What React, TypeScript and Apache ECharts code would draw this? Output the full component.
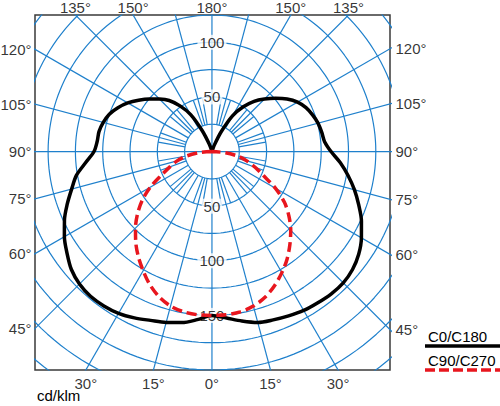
import React, { useEffect, useRef } from "react";
import * as echarts from "echarts";

// ---- data (cd/klm vs gamma angle, 0° = straight down) ----
const blackAngles = [0, 5, 10, 15, 20, 25, 30, 35, 40, 45, 50, 55, 60, 65, 70, 75, 80, 85, 90, 95, 100, 105, 110, 115, 120, 125, 130, 135, 140, 145, 150, 155, 160, 165];
const c0Values = [150, 153, 157.5, 162, 164, 166, 168, 169, 170, 170, 168, 164, 158, 151, 143, 135, 126.5, 118, 109, 103.5, 102, 100.5, 98, 95, 90.5, 84, 76, 68, 60, 50, 38, 20, 6, 0];
const c180Values = [150, 154.5, 159, 162, 164.5, 168, 171, 172.5, 173, 171.5, 168, 162, 156, 149, 141, 133, 126, 116, 108, 105.5, 105, 103, 100, 95, 89, 82, 75, 68, 61, 51, 39, 21, 7, 0];

const redAngles = [0, 5, 10, 15, 20, 25, 30, 35, 40, 45, 50, 55, 60, 65, 70, 75, 80, 85, 90];
const c90Values = [150, 150, 149, 146.5, 142, 135.5, 128, 120, 111, 102, 92, 81, 67, 52, 42, 33, 24, 12, 0];
const c270Values = [150, 150, 149, 146.5, 141.5, 134.5, 126, 117.5, 108.5, 99, 89, 78, 65, 51, 41, 33, 23.5, 11.5, 0];

const ringValues = [25, 50, 75, 100, 125, 150, 175, 200, 225, 250, 275, 300];
const radialLabelsUp = [50, 100];
const radialLabelsDown = [50, 100, 150];
const sideAngleLabels = [120, 105, 90, 75, 60, 45];
const topAngleLabels = [135, 150, 180];
const bottomAngleLabels = [30, 15, 0];

const seriesNames = ["C0/C180", "C90/C270"];
const unitLabel = "cd/klm";

// ---- layout ----
const XMIN = -162;
const XMAX = 163;
const YMIN = -200;
const YMAX = 125;
const GRID_COLOR = "#1f80cc";
const FONT = "'Liberation Sans', Arial, Helvetica, sans-serif";
const RED = "#e8161e";

const rad = (d: number) => (d * Math.PI) / 180;
const toXY = (side: number, g: number, v: number) => [side * v * Math.sin(rad(g)), -v * Math.cos(rad(g))];

export default function App() {
  const ref = useRef<HTMLDivElement>(null);

  useEffect(() => {
    if (!ref.current) return;
    const chart = echarts.init(ref.current, undefined, { renderer: "svg" });

    const series: any[] = [];

    // rings
    ringValues.forEach((r) => {
      const pts: number[][] = [];
      for (let a = 0; a <= 360; a += 2) pts.push([r * Math.cos(rad(a)), r * Math.sin(rad(a))]);
      series.push({
        type: "line",
        data: pts,
        symbol: "none",
        silent: true,
        z: 1,
        lineStyle: { color: GRID_COLOR, width: 1.2 },
      });
    });

    // spokes
    const spoke = (a: number, r0: number, r1: number) => {
      series.push({
        type: "line",
        data: [
          [r0 * Math.cos(rad(a)), r0 * Math.sin(rad(a))],
          [r1 * Math.cos(rad(a)), r1 * Math.sin(rad(a))],
        ],
        symbol: "none",
        silent: true,
        z: 1,
        lineStyle: { color: GRID_COLOR, width: 1.2 },
      });
    };
    for (let a = 0; a < 360; a += 15) {
      if (a % 90 === 0) continue;
      spoke(a, 25, 330);
    }
    for (let a = 0; a < 360; a += 10) {
      if (a % 30 === 0) continue;
      spoke(a, 25, 50);
    }
    spoke(0, -330, 330);
    spoke(90, -330, 330);

    const labelBase = { show: true, color: "#000", fontSize: 15, fontFamily: FONT };
    const labelSeries = (data: any[], label: any) => ({
      type: "scatter",
      data,
      symbolSize: 1,
      clip: false,
      silent: true,
      z: 3,
      itemStyle: { color: "rgba(0,0,0,0)" },
      label: { ...labelBase, formatter: (p: any) => p.value[2], ...label },
    });

    // side labels
    const leftData = sideAngleLabels.map((g) => {
      const t = -XMIN / Math.sin(rad(g));
      return [XMIN, -t * Math.cos(rad(g)), g + "°"];
    });
    const rightData = sideAngleLabels.map((g) => {
      const t = XMAX / Math.sin(rad(g));
      return [XMAX, -t * Math.cos(rad(g)), g + "°"];
    });
    const topData: any[] = [];
    topAngleLabels.forEach((g) => {
      const t = YMAX / -Math.cos(rad(g));
      const x = t * Math.sin(rad(g));
      topData.push([-x, YMAX, g + "°"]);
      if (g !== 180) topData.push([x, YMAX, g + "°"]);
    });
    const bottomData: any[] = [];
    bottomAngleLabels.forEach((g) => {
      const t = -YMIN / Math.cos(rad(g));
      const x = t * Math.sin(rad(g));
      bottomData.push([-x, YMIN, g + "°"]);
      if (g !== 0) bottomData.push([x, YMIN, g + "°"]);
    });
    const radialData = [
      ...radialLabelsUp.map((v) => [0, v, String(v)]),
      ...radialLabelsDown.map((v) => [0, -v, String(v)]),
    ];

    series.push(labelSeries(leftData, { position: "left", distance: 3 }));
    series.push(labelSeries(rightData, { position: "right", distance: 5 }));
    series.push(labelSeries(topData, { position: "top", distance: 0 }));
    series.push(labelSeries(bottomData, { position: "bottom", distance: 5 }));
    series.push(
      labelSeries(radialData, { position: "inside", backgroundColor: "#fff", padding: [0, 2] })
    );

    // curves
    const blackData = [
      ...blackAngles.map((g, i) => toXY(-1, g, c180Values[i])).reverse(),
      ...blackAngles.slice(1).map((g, i) => toXY(1, g, c0Values[i + 1])),
    ];
    const redData = [
      ...redAngles.map((g, i) => toXY(-1, g, c270Values[i])).reverse(),
      ...redAngles.slice(1).map((g, i) => toXY(1, g, c90Values[i + 1])),
    ];
    series.push({
      name: seriesNames[0],
      type: "line",
      data: blackData,
      symbol: "none",
      smooth: 0.3,
      z: 5,
      lineStyle: { color: "#000", width: 3.5 },
    });
    series.push({
      name: seriesNames[1],
      type: "line",
      data: redData,
      symbol: "none",
      smooth: 0.3,
      z: 6,
      lineStyle: { color: RED, width: 3.5, type: [10, 5] },
    });

    chart.setOption({
      animation: false,
      grid: {
        left: 35,
        top: 15,
        width: 355,
        height: 355,
        show: true,
        borderColor: "#3a3a3a",
        borderWidth: 1.5,
        backgroundColor: "#fff",
      },
      xAxis: {
        type: "value",
        min: XMIN,
        max: XMAX,
        show: false,
      },
      yAxis: {
        type: "value",
        min: YMIN,
        max: YMAX,
        show: false,
      },
      series,
      graphic: [
        {
          type: "text",
          left: 37,
          top: 388,
          style: { text: unitLabel, fill: "#000", font: `15px ${FONT}` },
        },
        {
          type: "text",
          left: 428,
          top: 329,
          style: { text: seriesNames[0], fill: "#000", font: `15px ${FONT}` },
        },
        {
          type: "line",
          shape: { x1: 425, y1: 346, x2: 500, y2: 346 },
          style: { stroke: "#000", lineWidth: 3.5 },
        },
        {
          type: "text",
          left: 428,
          top: 353,
          style: { text: seriesNames[1], fill: "#000", font: `15px ${FONT}` },
        },
        {
          type: "line",
          shape: { x1: 425, y1: 370, x2: 500, y2: 370 },
          style: { stroke: RED, lineWidth: 3.5, lineDash: [10, 4] },
        },
      ],
    });

    return () => chart.dispose();
  }, []);

  return (
    <div
      ref={ref}
      style={{ position: "absolute", left: 0, top: 0, width: 500, height: 406 }}
    />
  );
}
